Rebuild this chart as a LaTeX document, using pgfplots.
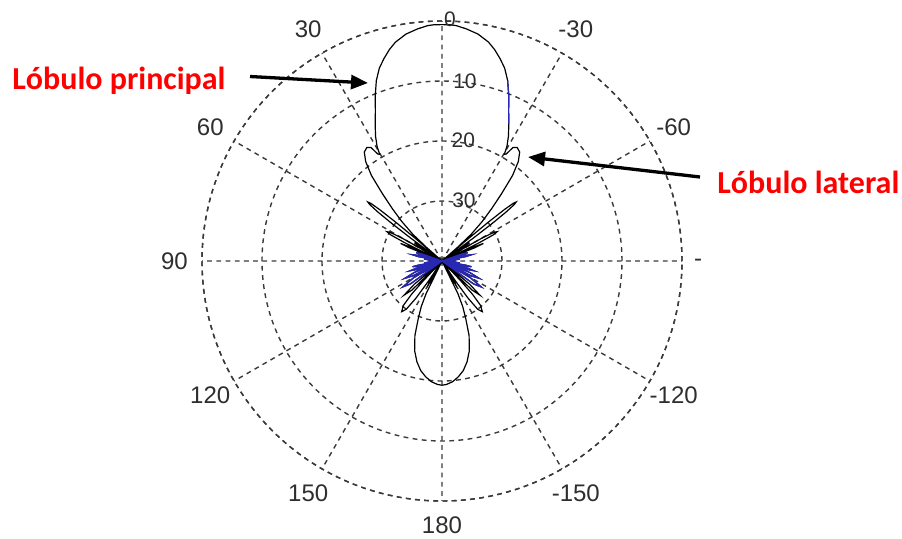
\documentclass[border=0pt]{standalone}
\usepackage{pgfplots}
\pgfplotsset{compat=1.18}
\usepackage{pgfplotstable}
\usepgfplotslibrary{polar}
\usetikzlibrary{arrows.meta}
\usepackage{fontspec}
\setmainfont{Liberation Sans}
\newfontfamily\carlito{Carlito}
\definecolor{gridgray}{HTML}{3A3A3A}
\definecolor{labelgray}{HTML}{2E2E2E}
\definecolor{traceblue}{HTML}{2828B4}

% Radiation pattern: angle from broadside (deg, positive to the left), gain in dB
\pgfplotstableread{
ang db
-180 -19.3
-178 -19.4
-175 -19.8
-172 -20.5
-169 -21.4
-166 -22.7
-163 -24.4
-160 -26.8
-157.5 -29.7
-155.5 -31.7
-154 -34
-152.5 -40
-151.5 -37
-150 -35.5
-148.5 -36
-146.6 -40
-146 -36
-145 -32.5
-143.5 -30
-141.5 -29.2
-139 -30.2
-137.5 -32.5
-136.6 -35.5
-135.5 -40
-134 -33
-132 -31.5
-130 -34
-128 -40
-126 -33.5
-123.5 -32.2
-120.5 -34.5
-118.5 -40
-117 -34.5
-115 -33.2
-112.5 -35
-110.5 -40
-109 -35.7
-107 -34.5
-105 -36
-103.5 -40
-102.2 -36
-101 -35
-100 -36
-99 -40
-97.5 -38
-96 -37
-94.5 -38
-93 -40
-87 -40
-85.5 -38
-84 -37
-82.5 -38
-81 -40
-79.5 -36
-78 -35
-76.5 -36
-75 -40
-73.5 -36.5
-72 -35.5
-70.5 -36.5
-69 -40
-68 -34
-67 -32.5
-66 -34.5
-64.8 -40
-64.4 -36.5
-63.8 -33
-63 -30.4
-62 -29.6
-61 -30.2
-60.2 -32.5
-59.6 -36
-58.6 -40
-57.6 -36
-56.6 -34.5
-55.6 -35.5
-54.5 -40
-54.2 -37
-53.8 -33.5
-53.2 -29.5
-52.6 -26.5
-52.0 -24.7
-51.5 -24.2
-51.0 -24.7
-50.5 -26.5
-50.0 -30
-49.6 -35
-49.3 -40
-48.6 -36.5
-47.5 -33.4
-45.5 -30.6
-43.5 -28.0
-41.5 -25.0
-39.5 -21.5
-37.5 -19.1
-35.5 -17.7
-33.5 -17.3
-32 -17.7
-31 -19.2
-30.3 -19.4
-29.5 -18.0
-28 -16.4
-26 -14.6
-24 -12.7
-22 -10.3
-20 -8.0
-18 -6.2
-16 -4.9
-14 -3.7
-12 -2.7
-9 -1.7
-6 -1.1
-3.5 -0.7
-2 -0.6
0 -0.6
2 -0.6
3.5 -0.7
6 -1.1
9 -1.7
12 -2.7
14 -3.7
16 -4.9
18 -6.2
20 -8.0
22 -10.3
24 -12.7
26 -14.6
28 -16.4
29.5 -18.0
30.3 -19.4
31 -19.2
32 -17.7
33.5 -17.3
35.5 -17.7
37.5 -19.1
39.5 -21.5
41.5 -25.0
43.5 -28.0
45.5 -30.6
47.5 -33.4
48.6 -36.5
49.3 -40
49.6 -35
50.0 -30
50.5 -26.5
51.0 -24.7
51.5 -24.2
52.0 -24.7
52.6 -26.5
53.2 -29.5
53.8 -33.5
54.2 -37
54.5 -40
55.6 -35.5
56.6 -34.5
57.6 -36
58.6 -40
59.6 -36
60.2 -32.5
61 -30.2
62 -29.6
63 -30.4
63.8 -33
64.4 -36.5
64.8 -40
66 -34.5
67 -32.5
68 -34
69 -40
70.5 -36.5
72 -35.5
73.5 -36.5
75 -40
76.5 -36
78 -35
79.5 -36
81 -40
82.5 -38
84 -37
85.5 -38
87 -40
93 -40
94.5 -38
96 -37
97.5 -38
99 -40
100 -36
101 -35
102.2 -36
103.5 -40
105 -36
107 -34.5
109 -35.7
110.5 -40
112.5 -35
115 -33.2
117 -34.5
118.5 -40
120.5 -34.5
123.5 -32.2
126 -33.5
128 -40
130 -34
132 -31.5
134 -33
135.5 -40
136.6 -35.5
137.5 -32.5
139 -30.2
141.5 -29.2
143.5 -30
145 -32.5
146 -36
146.6 -40
148.5 -36
150 -35.5
151.5 -37
152.5 -40
154 -34
155.5 -31.7
157.5 -29.7
160 -26.8
163 -24.4
166 -22.7
169 -21.4
172 -20.5
175 -19.8
178 -19.4
180 -19.3
}\gaintab

\begin{document}
\begin{tikzpicture}[x=1pt,y=1pt,
  anglab/.style={font=\fontsize{12}{14}\selectfont, text=labelgray, inner sep=0pt},
  ringlab/.style={font=\fontsize{10.5}{12}\selectfont, text=labelgray, inner sep=0pt},
  callout/.style={anchor=base west, inner sep=0pt, text=red, font=\carlito\bfseries\fontsize{16}{19}\selectfont}]
\useasboundingbox (0pt,0pt) rectangle (451pt,269pt);
\begin{polaraxis}[
  at={(221pt,138.5pt)}, anchor=center,
  width=240pt, height=240pt, scale only axis,
  xmin=0, xmax=360, ymin=0, ymax=40,
  xtick={0,30,...,330}, ytick={10,20,30,40},
  xticklabels={}, yticklabels={},
  major tick length=0pt,
  grid=major,
  major grid style={gridgray, line width=0.7pt, dash pattern=on 2.4pt off 2.2pt},
  axis line style={gridgray, line width=0.7pt, dash pattern=on 2.4pt off 2.2pt},
  y axis line style={draw=none},
  clip=false,
  unbounded coords=jump,
]
% full pattern trace
\addplot[black, line width=0.6pt, no markers]
  table[x expr=\thisrow{ang}+90, y expr=\thisrow{db}+40] {\gaintab};
% low-level lobes around endfire, drawn in blue
\addplot[traceblue, line width=0.65pt, no markers,
  restrict expr to domain={abs(\thisrow{ang})}{68.9:128.1}]
  table[x expr=\thisrow{ang}+90, y expr=\thisrow{db}+40] {\gaintab};
\addplot[traceblue, line width=0.6pt, no markers,
  restrict expr to domain={\thisrow{ang}}{-26.5:-19.5}]
  table[x expr=\thisrow{ang}+90, y expr=\thisrow{db}+40] {\gaintab};

% angle labels
\node[anglab] at (axis cs:120,44.6) {30};
\node[anglab] at (axis cs:150,44.6) {60};
\node[anglab] at (axis cs:180,44.6) {90};
\node[anglab] at (axis cs:210,44.6) {120};
\node[anglab] at (axis cs:240,44.6) {150};
\node[anglab] at (axis cs:270,44.0) {180};
\node[anglab] at (axis cs:300,44.6) {-150};
\node[anglab] at (axis cs:330,44.6) {-120};
\node[anglab] at (axis cs:30,44.6) {-60};
\node[anglab] at (axis cs:60,44.6) {-30};
% ring labels (dB below peak)
\node[ringlab] at (axis cs:88.1,40.35) {0};
\node[ringlab] at (axis cs:82.7,30.13) {10};
\node[ringlab] at (axis cs:80,20.5) {20};
\node[ringlab] at (axis cs:70.2,10.8) {30};
\end{polaraxis}

\node[anglab] at (349pt,137.5pt) {-};

% annotations
\draw[line width=1.65pt, -{Triangle[length=8.5pt,width=7pt]}] (125pt,230.75pt) -- (184pt,227.5pt);
\draw[line width=1.65pt, -{Triangle[length=8.5pt,width=7pt]}] (350pt,180.5pt) -- (264pt,190.5pt);
\node[callout] at (6pt,224.35pt) {Lóbulo principal};
\node[callout] at (358.5pt,172.5pt) {Lóbulo lateral};
\end{tikzpicture}
\end{document}
